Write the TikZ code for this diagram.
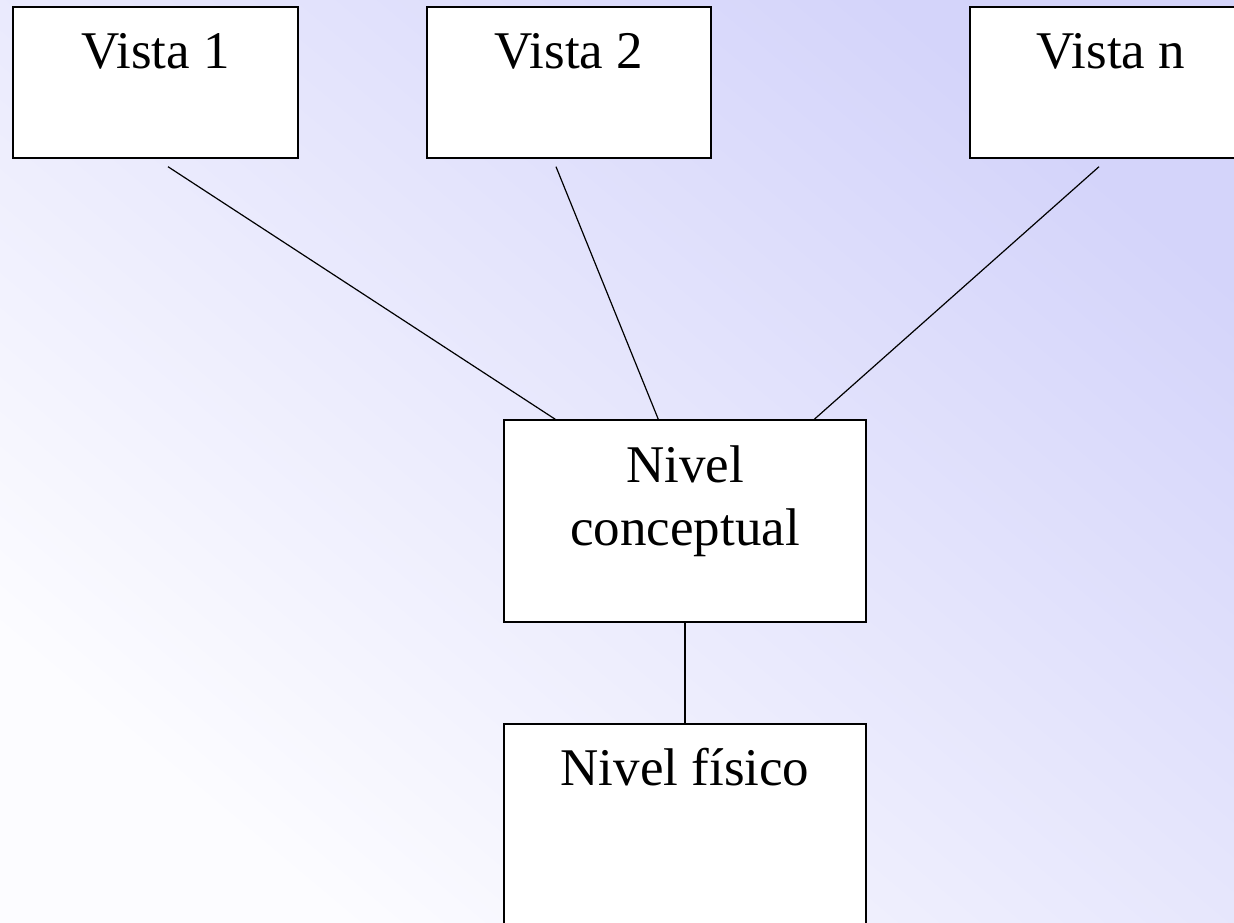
\documentclass[tikz,border=0pt]{standalone}
\usepackage{fontspec}
\setmainfont{Liberation Serif}
\definecolor{bgdark}{RGB}{212,212,250}
\definecolor{bglight}{RGB}{252,252,255}
\begin{document}
\begin{tikzpicture}[x=1pt,y=-1pt,
  box/.style={draw=black,line width=1.4pt,fill=white,rectangle,inner sep=0pt},
  lbl/.style={anchor=base,inner sep=0pt,font=\fontsize{53}{63}\selectfont,align=center},
  conn/.style={draw=black,line width=1.2pt}]
\useasboundingbox (0,0) rectangle (1234,923);
\clip (0,0) rectangle (1234,923);
\shade[bottom color=bglight,top color=bgdark,shading angle=-40] (0,0) rectangle (1234,923);
% boxes
\node[box,minimum width=285pt,minimum height=151pt] (v1) at (155.5,82.5) {};
\node[box,minimum width=284pt,minimum height=151pt] (v2) at (569,82.5) {};
\node[box,minimum width=282pt,minimum height=151pt] (vn) at (1111,82.5) {};
\node[box,minimum width=362pt,minimum height=202pt] (nc) at (685,521) {};
\node[box,minimum width=362pt,minimum height=226pt] (nf) at (685,837) {};
% labels
\node[lbl] (t1) at (155.5,69) {Vista 1};
\node[lbl] (t2) at (569,69) {Vista 2};
\node[lbl] (tn) at (1111,69) {Vista n};
\node[lbl] (tc1) at (685,482) {Nivel};
\node[lbl] (tc2) at (685,545) {conceptual};
\node[lbl] (tf) at (685,785) {Nivel físico};
% free ends of connectors
\coordinate (e1) at ([xshift=12.5pt,yshift=-8pt]v1.south);
\coordinate (e2) at ([xshift=-13pt,yshift=-8pt]v2.south);
\coordinate (en) at ([xshift=-12pt,yshift=-8pt]vn.south);
% connectors
\draw[conn] (e1) -- ([xshift=52pt]nc.north west);
\draw[conn] (e2) -- ([xshift=155pt]nc.north west);
\draw[conn] (en) -- ([xshift=311pt]nc.north west);
\draw[conn] (nc.south) -- (nf.north);
\end{tikzpicture}
\end{document}
